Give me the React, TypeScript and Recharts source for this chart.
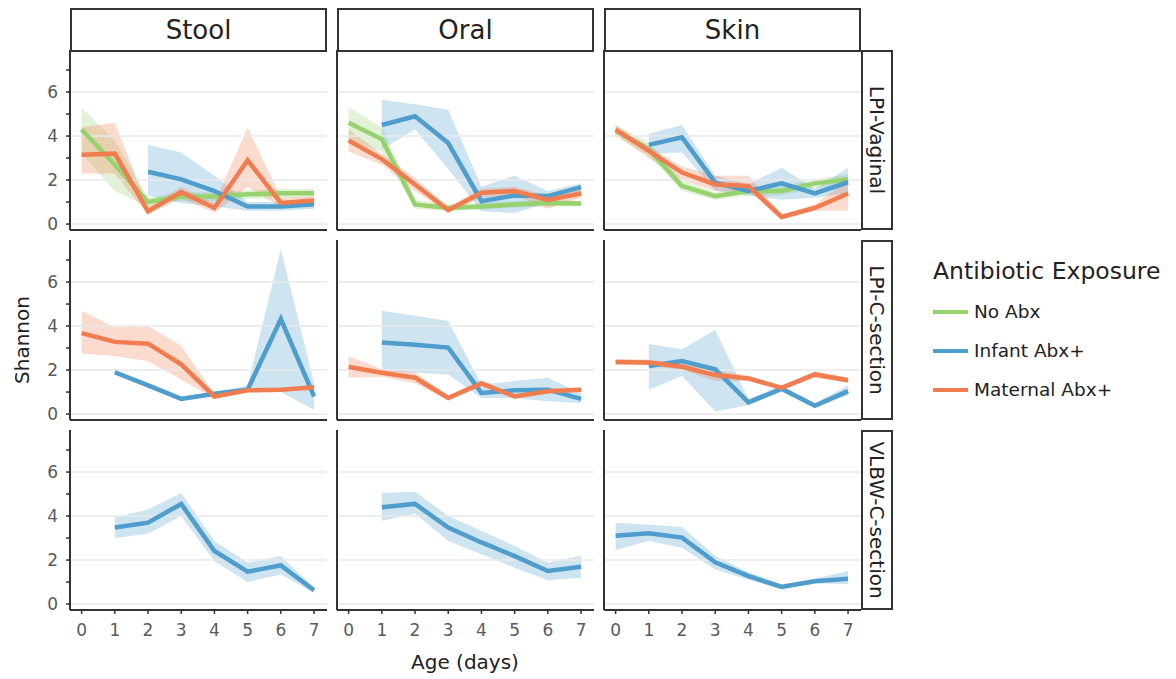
import React from 'react';
import { ComposedChart, Area, Line, XAxis, YAxis, ReferenceLine } from 'recharts';

// x values (age in days) and y ticks
const days = [0, 1, 2, 3, 4, 5, 6, 7];
const yTicks = [0, 1, 2, 3, 4, 5, 6, 7];
const gridValues = [0, 2, 4, 6];

const sites = ['Stool', 'Oral', 'Skin'];
const cohorts = ['LPI-Vaginal', 'LPI-C-section', 'VLBW-C-section'];
const groups = ['No Abx', 'Infant Abx+', 'Maternal Abx+'];

// each point: [lower, mean, upper], null = no samples that day
type Pt = [number, number, number] | null;

// LPI-Vaginal
const stoolVagNoAbx: Pt[] = [[3.2, 4.3, 5.3], [1.5, 2.7, 3.8], [0.8, 1.0, 1.2], [1.05, 1.25, 1.45], [1.05, 1.25, 1.45], [1.15, 1.35, 1.55], [1.2, 1.4, 1.6], [1.2, 1.4, 1.6]];
const stoolVagInfant: Pt[] = [null, null, [1.3, 2.38, 3.6], [0.95, 2.03, 3.25], [0.8, 1.5, 2.2], [0.6, 0.8, 1.0], [0.6, 0.8, 1.0], [0.7, 0.9, 1.1]];
const stoolVagMaternal: Pt[] = [[2.3, 3.15, 4.4], [2.3, 3.2, 4.6], [0.4, 0.58, 0.8], [1.2, 1.45, 1.7], [0.5, 0.73, 0.95], [1.7, 2.9, 4.4], [0.75, 0.96, 1.2], [0.9, 1.07, 1.25]];

const oralVagNoAbx: Pt[] = [[3.8, 4.6, 5.3], [3.3, 3.86, 4.4], [0.7, 0.89, 1.1], [0.6, 0.73, 0.9], [0.65, 0.8, 0.95], [0.75, 0.89, 1.05], [0.8, 0.96, 1.1], [0.8, 0.93, 1.05]];
const oralVagInfant: Pt[] = [null, [3.4, 4.5, 5.65], [4.3, 4.9, 5.45], [2.5, 3.68, 5.2], [0.58, 1.04, 1.7], [0.5, 1.3, 2.2], [0.96, 1.27, 1.5], [1.5, 1.68, 1.85]];
const oralVagMaternal: Pt[] = [[3.3, 3.8, 4.3], [2.7, 2.95, 3.2], [1.5, 1.8, 2.1], [0.5, 0.63, 0.8], [1.2, 1.42, 1.6], [1.3, 1.5, 1.7], [0.7, 1.1, 1.3], [1.2, 1.39, 1.6]];

const skinVagNoAbx: Pt[] = [[4.0, 4.25, 4.5], [3.1, 3.4, 3.7], [1.5, 1.73, 2.0], [1.1, 1.27, 1.45], [1.3, 1.5, 1.7], [1.3, 1.5, 1.7], [1.65, 1.85, 2.05], [1.8, 2.03, 2.25]];
const skinVagInfant: Pt[] = [null, [3.2, 3.6, 4.1], [3.25, 3.94, 4.5], [1.5, 1.88, 2.2], [1.3, 1.5, 1.8], [1.1, 1.85, 2.56], [1.2, 1.39, 1.6], [1.4, 1.9, 2.56]];
const skinVagMaternal: Pt[] = [[4.05, 4.29, 4.5], [3.0, 3.33, 3.55], [2.0, 2.34, 2.6], [1.5, 1.8, 2.2], [1.5, 1.73, 2.2], [0.2, 0.32, 0.45], [0.6, 0.73, 0.9], [0.6, 1.39, 2.0]];

// LPI-C-section
const stoolCsecInfant: Pt[] = [null, [1.8, 1.9, 2.0], [1.2, 1.3, 1.4], [0.6, 0.69, 0.8], [0.8, 0.92, 1.0], [1.0, 1.11, 1.3], [1.0, 4.32, 7.5], [0.2, 0.8, 1.4]];
const stoolCsecMaternal: Pt[] = [[2.75, 3.68, 4.7], [2.64, 3.28, 3.94], [2.4, 3.2, 4.0], [1.57, 2.26, 3.1], [0.7, 0.8, 0.9], [1.0, 1.08, 1.18], [1.0, 1.11, 1.2], [1.1, 1.22, 1.32]];

const oralCsecInfant: Pt[] = [null, [1.95, 3.25, 4.7], [1.88, 3.15, 4.47], [1.8, 3.02, 4.24], [0.73, 0.96, 1.34], [0.73, 1.08, 1.5], [0.58, 1.11, 1.65], [0.5, 0.69, 0.96]];
const oralCsecMaternal: Pt[] = [[1.65, 2.14, 2.64], [1.7, 1.88, 2.05], [1.4, 1.65, 1.9], [0.62, 0.73, 0.85], [1.25, 1.39, 1.55], [0.7, 0.8, 0.9], [0.95, 1.04, 1.15], [1.0, 1.11, 1.22]];

const skinCsecInfant: Pt[] = [null, [1.1, 2.18, 3.18], [1.73, 2.41, 2.95], [0.12, 2.03, 3.82], [0.4, 0.53, 0.7], [1.0, 1.15, 1.3], [0.3, 0.38, 0.5], [0.85, 1.04, 1.3]];
const skinCsecMaternal: Pt[] = [[2.25, 2.37, 2.5], [2.2, 2.34, 2.48], [2.0, 2.15, 2.3], [1.5, 1.77, 2.0], [1.5, 1.62, 1.75], [1.08, 1.19, 1.3], [1.65, 1.8, 1.95], [1.42, 1.54, 1.66]];

// VLBW-C-section
const stoolVlbwInfant: Pt[] = [null, [3.0, 3.48, 3.94], [3.2, 3.7, 4.3], [4.0, 4.55, 5.05], [1.95, 2.41, 2.87], [1.0, 1.47, 1.88], [1.34, 1.76, 2.18], [0.5, 0.63, 0.75]];
const oralVlbwInfant: Pt[] = [null, [3.79, 4.4, 5.05], [4.1, 4.55, 5.1], [2.87, 3.48, 4.0], [2.26, 2.8, 3.33], [1.65, 2.18, 2.64], [1.08, 1.5, 1.88], [1.19, 1.7, 2.2]];
const skinVlbwInfant: Pt[] = [[2.46, 3.1, 3.7], [2.87, 3.22, 3.6], [2.56, 3.02, 3.5], [1.57, 1.9, 2.2], [1.1, 1.27, 1.45], [0.7, 0.78, 0.9], [0.95, 1.04, 1.15], [0.9, 1.15, 1.5]];

const COLORS = ['#96d26d', '#4e9dcd', '#f07c50'];

// panel layout (px)
const COL_LEFT = [70, 337, 604];
const ROW_TOP = [50, 240, 430];
const PLOT_W = 257;
const PLOT_H = 180;
const Y_W = 40;

const keys = ['no', 'inf', 'mat'];

function buildRows(series: (Pt[] | null)[]) {
  return days.map((d, i) => {
    const row: any = { day: d };
    series.forEach((s, k) => {
      const p = s ? s[i] : null;
      row[keys[k]] = p ? p[1] : null;
      row[keys[k] + 'Band'] = p ? [p[0], p[2]] : null;
    });
    return row;
  });
}

const YTick = (props: any) => {
  const { x, y, payload } = props;
  if (payload.value % 2 !== 0) return <g />;
  return (
    <text x={x} y={y} dy={6} textAnchor="end" fontSize={17} fill="#5a5a5a">
      {payload.value}
    </text>
  );
};

const XTick = (props: any) => {
  const { x, y, payload } = props;
  return (
    <text x={x} y={y} dy={12} textAnchor="middle" fontSize={17} fill="#5a5a5a">
      {payload.value}
    </text>
  );
};

const Facet = ({ col, row, series }: { col: number; row: number; series: (Pt[] | null)[] }) => {
  const data = buildRows(series);
  const bottom = row === 2;
  const xH = bottom ? 40 : 12;
  return (
    <div style={{ position: 'absolute', left: COL_LEFT[col] - Y_W, top: ROW_TOP[row] }}>
      <ComposedChart width={PLOT_W + Y_W} height={PLOT_H + xH} data={data} margin={{ top: 0, right: 0, bottom: 0, left: 0 }}>
        <XAxis
          dataKey="day"
          type="number"
          domain={[-0.35, 7.39]}
          ticks={days}
          interval={0}
          allowDataOverflow
          height={xH}
          axisLine={{ stroke: '#333', strokeWidth: 2 }}
          tickLine={bottom ? { stroke: '#333', strokeWidth: 1.5 } : false}
          tickSize={4}
          tickMargin={10}
          tick={bottom ? XTick : false}
        />
        <YAxis
          type="number"
          domain={[-0.27, 7.91]}
          ticks={yTicks}
          interval={0}
          allowDataOverflow
          width={Y_W}
          axisLine={{ stroke: '#333', strokeWidth: 2 }}
          tickLine={{ stroke: '#333', strokeWidth: 1.5 }}
          tickSize={4}
          tickMargin={8}
          tick={col === 0 ? YTick : false}
        />
        {gridValues.map((v) => (
          <ReferenceLine key={v} y={v} stroke="#e8e8e8" strokeWidth={1.5} />
        ))}
        {series.map((s, k) =>
          s ? (
            <Area
              key={'a' + k}
              type="linear"
              dataKey={keys[k] + 'Band'}
              stroke="none"
              fill={COLORS[k]}
              fillOpacity={0.28}
              isAnimationActive={false}
              dot={false}
              activeDot={false}
            />
          ) : null
        )}
        {series.map((s, k) =>
          s ? (
            <Line
              key={'l' + k}
              type="linear"
              dataKey={keys[k]}
              stroke={COLORS[k]}
              strokeWidth={4.5}
              dot={false}
              activeDot={false}
              isAnimationActive={false}
            />
          ) : null
        )}
      </ComposedChart>
    </div>
  );
};

const panels: { col: number; row: number; series: (Pt[] | null)[] }[] = [
  { col: 0, row: 0, series: [stoolVagNoAbx, stoolVagInfant, stoolVagMaternal] },
  { col: 1, row: 0, series: [oralVagNoAbx, oralVagInfant, oralVagMaternal] },
  { col: 2, row: 0, series: [skinVagNoAbx, skinVagInfant, skinVagMaternal] },
  { col: 0, row: 1, series: [null, stoolCsecInfant, stoolCsecMaternal] },
  { col: 1, row: 1, series: [null, oralCsecInfant, oralCsecMaternal] },
  { col: 2, row: 1, series: [null, skinCsecInfant, skinCsecMaternal] },
  { col: 0, row: 2, series: [null, stoolVlbwInfant, null] },
  { col: 1, row: 2, series: [null, oralVlbwInfant, null] },
  { col: 2, row: 2, series: [null, skinVlbwInfant, null] },
];

const stripBox: React.CSSProperties = {
  position: 'absolute',
  boxSizing: 'border-box',
  border: '2px solid #333',
  background: '#fff',
  color: '#222',
  display: 'flex',
  alignItems: 'center',
  justifyContent: 'center',
};

export default function App() {
  return (
    <div
      style={{
        position: 'absolute',
        left: 0,
        top: 0,
        width: 1176,
        height: 679,
        background: '#fff',
        overflow: 'hidden',
        fontFamily: '"DejaVu Sans", sans-serif',
      }}
    >
      {sites.map((s, i) => (
        <div key={s} style={{ ...stripBox, left: COL_LEFT[i], top: 8, width: PLOT_W, height: 44, fontSize: 26 }}>
          {s}
        </div>
      ))}
      {cohorts.map((c, i) => (
        <div key={c} style={{ ...stripBox, left: 861, top: ROW_TOP[i], width: 32, height: PLOT_H, fontSize: 20 }}>
          <span style={{ transform: 'rotate(90deg)', whiteSpace: 'nowrap' }}>{c}</span>
        </div>
      ))}

      {panels.map((p) => (
        <Facet key={p.col + '-' + p.row} col={p.col} row={p.row} series={p.series} />
      ))}

      <div
        style={{
          position: 'absolute',
          left: 22,
          top: 340,
          transform: 'translate(-50%, -50%) rotate(-90deg)',
          fontSize: 20,
          color: '#222',
          whiteSpace: 'nowrap',
        }}
      >
        Shannon
      </div>
      <div
        style={{
          position: 'absolute',
          left: 465,
          top: 662,
          transform: 'translate(-50%, -50%)',
          fontSize: 20,
          color: '#222',
          whiteSpace: 'nowrap',
        }}
      >
        Age (days)
      </div>

      {/* legend */}
      <div style={{ position: 'absolute', left: 933, top: 257, fontSize: 23.5, color: '#222', whiteSpace: 'nowrap' }}>
        Antibiotic Exposure
      </div>
      {groups.map((g, i) => (
        <div key={g} style={{ position: 'absolute', left: 933, top: 301 + i * 39, display: 'flex', alignItems: 'center' }}>
          <div style={{ width: 35, height: 4, background: COLORS[i], marginRight: 6 }} />
          <span style={{ fontSize: 18.5, color: '#222', whiteSpace: 'nowrap' }}>{g}</span>
        </div>
      ))}
    </div>
  );
}
